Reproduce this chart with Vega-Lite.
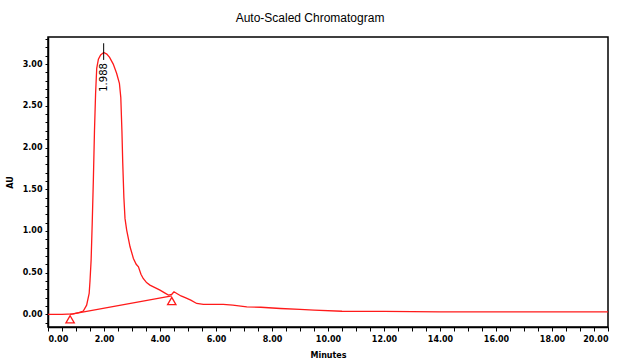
{
  "$schema": "https://vega.github.io/schema/vega-lite/v6.json",
  "width": 560,
  "height": 290,
  "autosize": {"type": "none"},
  "padding": {"left": 48, "top": 37, "right": 13, "bottom": 33},
  "background": "white",
  "title": {
    "text": "Auto-Scaled Chromatogram",
    "font": "Liberation Sans",
    "fontSize": 12,
    "fontWeight": "normal",
    "color": "black",
    "anchor": "middle",
    "dx": -18,
    "offset": 10
  },
  "config": {
    "view": {"stroke": "black", "strokeWidth": 1.5},
    "axis": {
      "domainColor": "black",
      "domainWidth": 1.5,
      "tickColor": "black",
      "tickSize": 3,
      "grid": false,
      "labelFont": "DejaVu Sans",
      "labelFontSize": 8,
      "labelFontWeight": "bold",
      "labelColor": "black",
      "labelOverlap": false,
      "titleFont": "DejaVu Sans",
      "titleFontSize": 8,
      "titleFontWeight": "bold",
      "titleColor": "black"
    }
  },
  "datasets": {
    "curve": [
      {"t": 0, "v": 0.0}, {"t": 0.5, "v": 0.0}, {"t": 0.9, "v": 0.005}, {"t": 1.1, "v": 0.02},
      {"t": 1.26, "v": 0.04}, {"t": 1.38, "v": 0.11}, {"t": 1.47, "v": 0.25}, {"t": 1.5, "v": 0.4},
      {"t": 1.54, "v": 0.65}, {"t": 1.58, "v": 1.1}, {"t": 1.62, "v": 1.61}, {"t": 1.66, "v": 2.2},
      {"t": 1.7, "v": 2.65}, {"t": 1.74, "v": 2.95}, {"t": 1.8, "v": 3.06}, {"t": 1.88, "v": 3.11},
      {"t": 1.99, "v": 3.14}, {"t": 2.1, "v": 3.12}, {"t": 2.2, "v": 3.08}, {"t": 2.33, "v": 3.0},
      {"t": 2.45, "v": 2.89}, {"t": 2.55, "v": 2.77}, {"t": 2.6, "v": 2.6}, {"t": 2.64, "v": 2.2},
      {"t": 2.67, "v": 1.81}, {"t": 2.71, "v": 1.4}, {"t": 2.75, "v": 1.15}, {"t": 2.81, "v": 1.01},
      {"t": 2.93, "v": 0.81}, {"t": 3.05, "v": 0.67}, {"t": 3.15, "v": 0.6}, {"t": 3.23, "v": 0.57},
      {"t": 3.32, "v": 0.48}, {"t": 3.4, "v": 0.43}, {"t": 3.52, "v": 0.38}, {"t": 3.64, "v": 0.35},
      {"t": 3.82, "v": 0.32}, {"t": 4.0, "v": 0.29}, {"t": 4.15, "v": 0.26}, {"t": 4.3, "v": 0.23},
      {"t": 4.42, "v": 0.24}, {"t": 4.5, "v": 0.27}, {"t": 4.6, "v": 0.25}, {"t": 4.75, "v": 0.22},
      {"t": 4.9, "v": 0.2}, {"t": 5.1, "v": 0.17}, {"t": 5.31, "v": 0.13}, {"t": 5.55, "v": 0.12},
      {"t": 5.9, "v": 0.12}, {"t": 6.26, "v": 0.12}, {"t": 6.6, "v": 0.11}, {"t": 7.1, "v": 0.09},
      {"t": 7.6, "v": 0.085}, {"t": 8.3, "v": 0.07}, {"t": 9.0, "v": 0.06}, {"t": 9.5, "v": 0.05},
      {"t": 10.5, "v": 0.037}, {"t": 12.0, "v": 0.035}, {"t": 14.0, "v": 0.03}, {"t": 16.0, "v": 0.03},
      {"t": 18.0, "v": 0.03}, {"t": 20.0, "v": 0.03}
    ],
    "baseline": [
      {"t": 0.79, "v": 0.0},
      {"t": 4.42, "v": 0.22}
    ],
    "peakRule": [
      {"t": 1.988, "v": 3.25, "v2": 3.05}
    ],
    "peakLabel": [
      {"t": 1.988, "v": 2.84, "label": "1.988"}
    ]
  },
  "encoding": {
    "x": {
      "field": "t", "type": "quantitative",
      "scale": {"domain": [0, 20], "nice": false, "zero": false},
      "axis": {
        "title": "Minutes",
        "values": [0,0.5,1,1.5,2,2.5,3,3.5,4,4.5,5,5.5,6,6.5,7,7.5,8,8.5,9,9.5,10,10.5,11,11.5,12,12.5,13,13.5,14,14.5,15,15.5,16,16.5,17,17.5,18,18.5,19,19.5,20],
        "labelExpr": "round(datum.value*2) % 4 == 0 ? format(datum.value, '.2f') : ''",
        "labelOverlap": false,
        "tickSize": 4,
        "labelPadding": 4,
        "titlePadding": 8,
        "titleAnchor": "middle"
      }
    },
    "y": {
      "field": "v", "type": "quantitative",
      "scale": {"domain": [-0.152, 3.325], "nice": false, "zero": false},
      "axis": {
        "title": "AU",
        "values": [-0.1,0,0.1,0.2,0.3,0.4,0.5,0.6,0.7,0.8,0.9,1,1.1,1.2,1.3,1.4,1.5,1.6,1.7,1.8,1.9,2,2.1,2.2,2.3,2.4,2.5,2.6,2.7,2.8,2.9,3,3.1,3.2,3.3],
        "labelExpr": "round(datum.value*10) % 5 == 0 ? format(datum.value, '.2f') : ''",
        "labelOverlap": false,
        "labelPadding": 3,
        "titlePadding": 8
      }
    }
  },
  "layer": [
    {
      "data": {"name": "curve"},
      "mark": {"type": "line", "color": "#ff1a1a", "strokeWidth": 1.3, "clip": true}
    },
    {
      "data": {"name": "baseline"},
      "mark": {"type": "line", "color": "#ff1a1a", "strokeWidth": 1.3}
    },
    {
      "data": {"name": "baseline"},
      "mark": {"type": "point", "shape": "triangle-up", "filled": false, "color": "#ff1a1a", "size": 70, "strokeWidth": 1.3, "yOffset": 5, "opacity": 1}
    },
    {
      "data": {"name": "peakRule"},
      "mark": {"type": "rule", "color": "black", "strokeWidth": 1},
      "encoding": {
        "y2": {"field": "v2"}
      }
    },
    {
      "data": {"name": "peakLabel"},
      "mark": {"type": "text", "angle": 270, "align": "center", "baseline": "middle", "font": "DejaVu Sans", "fontSize": 10, "color": "black"},
      "encoding": {
        "text": {"field": "label"}
      }
    }
  ]
}
